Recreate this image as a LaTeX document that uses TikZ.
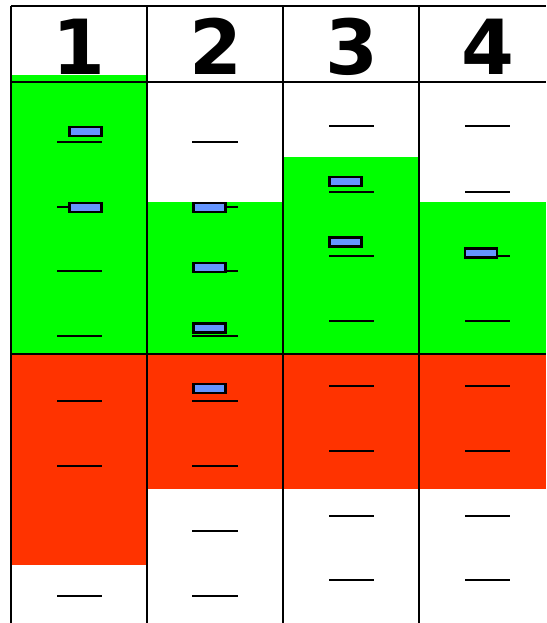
\documentclass[tikz,border=0pt]{standalone}
\usepackage{fontspec}
\setmainfont{DejaVu Sans}
\definecolor{gr}{RGB}{0,255,0}
\definecolor{rd}{RGB}{255,51,0}
\definecolor{bl}{RGB}{100,149,255}
\begin{document}
\begin{tikzpicture}[x=1pt,y=-1pt,
  grid/.style={line width=2pt,black},
  tick/.style={line width=1.7pt,black},
  marker/.style={draw=black,line width=2.7pt,fill=bl,minimum width=32pt,minimum height=9pt,inner sep=0pt,outer sep=0pt},
  head/.style={font=\fontsize{76}{76}\bfseries,inner sep=0pt,anchor=base}]
\useasboundingbox (0,0) rectangle (546,623);
\fill[white] (0,0) rectangle (546,623);
% fills
\fill[gr] (11,75) rectangle (147,354);
\fill[rd] (11,354) rectangle (147,565);
\fill[gr] (147,202) rectangle (283,354);
\fill[rd] (147,354) rectangle (283,489);
\fill[gr] (283,157) rectangle (419,354);
\fill[rd] (283,354) rectangle (419,489);
\fill[gr] (419,202) rectangle (546,354);
\fill[rd] (419,354) rectangle (546,489);
% ticks column 1
\foreach \y in {142,207,271,336,401,466,596} \draw[tick] (57,\y) -- (102,\y);
% ticks column 2
\foreach \y in {142,207,271,336,401,466,531,596} \draw[tick] (192,\y) -- (238,\y);
% ticks column 3 and 4
\foreach \y in {126,192,256,321,386,451,516,580} {
  \draw[tick] (329,\y) -- (374,\y);
  \draw[tick] (465,\y) -- (510,\y);
}
% grid
\draw[grid] (11,6) -- (546,6);
\draw[grid] (11,82) -- (546,82);
\draw[grid] (11,354) -- (546,354);
\foreach \x in {11,147,283,419} \draw[grid] (\x,6) -- (\x,623);
% headers
\node[head] (h1) at (79,75) {1};
\node[head] (h2) at (216,75) {2};
\node[head] (h3) at (352,75) {3};
\node[head] (h4) at (488,75) {4};
% markers
\node[marker] (m11) at (85.5,131.5) {};
\node[marker] (m12) at (85.5,207.5) {};
\node[marker] (m21) at (209.5,207.5) {};
\node[marker] (m22) at (209.5,267.5) {};
\node[marker] (m23) at (209.5,328) {};
\node[marker] (m24) at (209.5,388.5) {};
\node[marker] (m31) at (345.5,181.5) {};
\node[marker] (m32) at (345.5,242) {};
\node[marker] (m41) at (481,253) {};
\end{tikzpicture}
\end{document}
